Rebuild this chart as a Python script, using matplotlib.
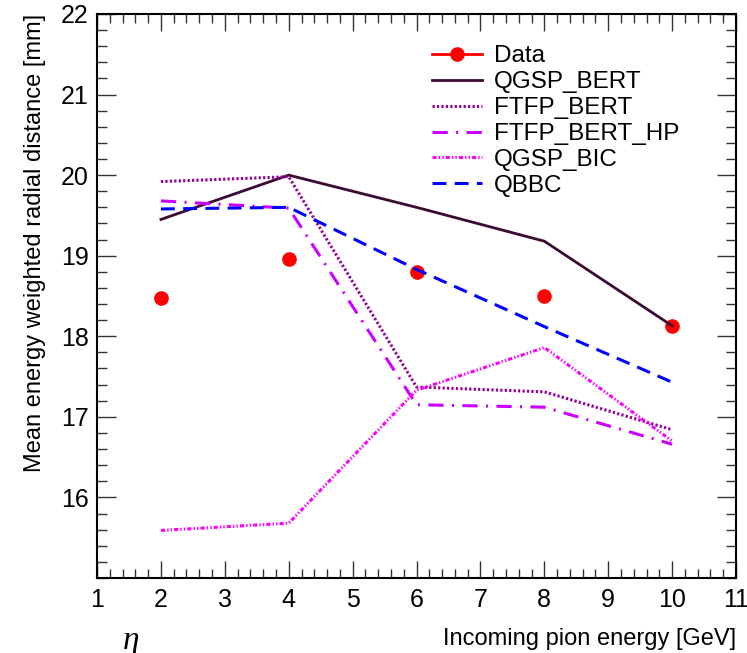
import matplotlib
matplotlib.use('Agg')
import matplotlib.pyplot as plt
from matplotlib.lines import Line2D
from matplotlib.ticker import MultipleLocator

plt.rcParams['font.family'] = ['Liberation Sans', 'DejaVu Sans']
plt.rcParams['lines.scale_dashes'] = False

# pion energies and mean radial distances
energy = [2, 4, 6, 8, 10]
data = [18.47, 18.96, 18.80, 18.50, 18.13]
qgsp_bert = [19.45, 20.00, 19.60, 19.18, 18.13]
ftfp_bert = [19.92, 19.98, 17.37, 17.31, 16.84]
ftfp_bert_hp = [19.68, 19.59, 17.15, 17.12, 16.66]
qgsp_bic = [15.59, 15.68, 17.33, 17.86, 16.70]
qbbc = [19.58, 19.60, 18.83, 18.12, 17.43]

fig = plt.figure(figsize=(7.47, 6.53), dpi=100)
ax = fig.add_axes([0.1299, 0.1149, 0.8554, 0.8637])

ax.plot(energy, data, color='#ff0000', marker='o', ms=9.5, ls='none')
ax.plot(energy, qgsp_bert, color='#3c0a32', lw=2, label='QGSP_BERT')
ax.plot(energy, ftfp_bert, color='#96009a', lw=2.2, ls=(0, (1.6, 1.6)), label='FTFP_BERT')
ax.plot(energy, ftfp_bert_hp, color='#cc00ff', lw=2.2, ls=(0, (11, 6, 1.5, 6)), label='FTFP_BERT_HP')
ax.plot(energy, qgsp_bic, color='#ff00ff', lw=2.2, ls=(0, (3, 1.5, 1, 1.5, 1, 1.5)), label='QGSP_BIC')
ax.plot(energy, qbbc, color='#0000ff', lw=2.2, ls=(0, (10, 6)), label='QBBC')

ax.set_xlim(1, 11)
ax.set_ylim(15, 22)
ax.xaxis.set_major_locator(MultipleLocator(1))
ax.xaxis.set_minor_locator(MultipleLocator(0.2))
ax.yaxis.set_minor_locator(MultipleLocator(0.2))
ax.set_yticks([16, 17, 18, 19, 20, 21, 22])

ax.tick_params(which='both', direction='in', top=True, right=True, width=1, labelsize=18, color='#333333')
ax.tick_params(axis='x', which='major', length=12, pad=7)
ax.tick_params(axis='x', which='minor', length=6.5)
ax.tick_params(axis='y', which='major', length=14, pad=6)
ax.tick_params(axis='y', which='minor', length=7)
for s in ax.spines.values():
    s.set_linewidth(1.5)

ax.set_xlabel('Incoming pion energy [GeV]', fontsize=17, loc='right', labelpad=12)
ax.set_ylabel('Mean energy weighted radial distance [mm]', fontsize=17, loc='top', labelpad=11)

# legend: data entry drawn as line + marker
data_handle = Line2D([], [], color='#ff0000', lw=2, marker='o', ms=9.5)
h, l = ax.get_legend_handles_labels()
ax.legend([data_handle] + h, ['Data'] + l, loc='upper left', bbox_to_anchor=(0.505, 0.966),
          frameon=False, fontsize=17.5, handlelength=2.06, labelspacing=0.16,
          handletextpad=0.5, borderpad=0)

fig.text(0.165, -0.005, 'η', fontsize=24, style='italic', family='Liberation Serif', ha='left', va='bottom')

fig.savefig('out.png', dpi=100)
